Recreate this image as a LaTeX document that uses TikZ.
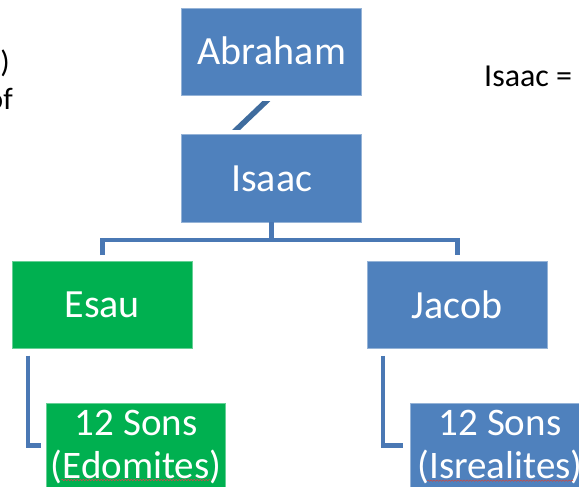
\documentclass[tikz,border=0pt]{standalone}
\usepackage{fontspec}
\setmainfont{Carlito}
\usetikzlibrary{calc}
\usetikzlibrary{decorations.pathmorphing}

\definecolor{boxblue}{HTML}{4F81BD}
\definecolor{leafgreen}{HTML}{00B050}
\definecolor{linkblue}{HTML}{4A78B4}
\definecolor{stubblue}{HTML}{3F6C9E}
\definecolor{spellred}{HTML}{C0504D}

\begin{document}
\begin{tikzpicture}[x=1pt,y=-1pt,
  person/.style={rectangle,fill=boxblue,draw=boxblue!60!white,line width=0.6pt,text=white,
    inner sep=0pt,minimum width=180pt,minimum height=87pt,text height=26pt,text depth=0pt,
    font=\fontsize{40}{48}\selectfont},
  sons/.style={rectangle,fill=boxblue,draw=boxblue!60!white,line width=0.6pt,text=white,
    anchor=north,inner xsep=0pt,inner ysep=7pt,minimum width=179pt,align=center,
    font=\fontsize{39}{43}\selectfont},
  link/.style={linkblue,line width=4.6pt},
  note/.style={inner sep=0pt,font=\fontsize{31}{37}\selectfont},
  spell/.style={spellred,line width=0.6pt,decorate,decoration={snake,segment length=3pt,amplitude=0.7pt}}]
 \useasboundingbox (0,0) rectangle (579,487);
 \node[person] (abraham) at (271.7,51.5) {Abraham};
 \node[person] (isaac) at (271.7,178.3) {Isaac};
 \node[person,fill=leafgreen,draw=leafgreen!60!white] (esau) at (102.3,304.8) {Esau};
 \node[person] (jacob) at (457.2,305) {Jacob};
 \node[sons,fill=leafgreen,draw=leafgreen!60!white] (edomites) at (136.2,403) {12 Sons\\(Edomites)\rule[-20pt]{0pt}{20pt}};
 \node[sons] (isrealites) at (500,402.7) {12 Sons\\(Isrealites)\rule[-20pt]{0pt}{20pt}};

 \coordinate (stubfoot) at (233.8,132.1);
 \coordinate (stubhead) at (268.7,98.9);
 \begin{scope}
  \clip (200,101.7) rectangle (300,129.3);
  \draw[stubblue,line width=5.5pt] (stubfoot) -- (stubhead);
 \end{scope}

 \coordinate (fork) at ([yshift=-17.8pt]isaac.south);
 \draw[link] (isaac.south) -- (fork);
 \draw[link] ([yshift=6pt]esau.north) |- (fork) -| ([yshift=6pt]jacob.north);
 \draw[link] ([shift={(16pt,-7pt)}]esau.south west) |- ([shift={(-5.7pt,-42.5pt)}]edomites.north west);
 \draw[link] ([shift={(16pt,-7pt)}]jacob.south west) |- ([shift={(-7pt,-43pt)}]isrealites.north west);

 \draw[spell] ([shift={(15pt,-77pt)}]edomites.north west) -- ([shift={(165pt,-77pt)}]edomites.north west);
 \draw[spell] ([shift={(17pt,-78pt)}]isrealites.north west) -- ([shift={(163pt,-78pt)}]isrealites.north west);

 \node[note,anchor=base east] (paren) at (10,73) {)};
 \node[note,anchor=base east] (ofword) at (13,110) {of};
 \node[note,anchor=base west] (isaaceq) at (484,86.7) {\fontsize{32}{38}\selectfont Isaac =};
\end{tikzpicture}
\end{document}
